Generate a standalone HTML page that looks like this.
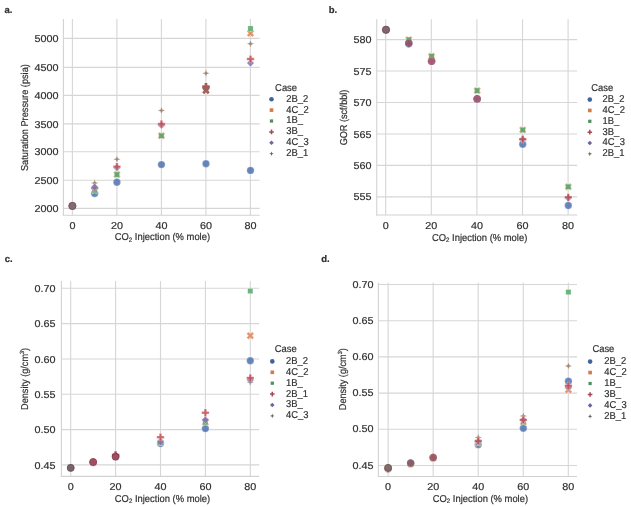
<!DOCTYPE html>
<html><head><meta charset="utf-8"><title>CO2 injection plots</title>
<style>
html,body{margin:0;padding:0;background:#fff;width:631px;height:507px;overflow:hidden}
svg{-webkit-font-smoothing:antialiased;will-change:transform;text-rendering:geometricPrecision}
svg{display:block}
text{font-family:"Liberation Sans", sans-serif;fill:#303030;stroke:#303030;stroke-width:0.2px}
</style></head><body>
<svg width="631" height="507" viewBox="0 0 631 507">
<rect width="631" height="507" fill="#fff"/>
<line x1="63.40" y1="208.40" x2="259.60" y2="208.40" stroke="#d6d6d6" stroke-width="1.1"/>
<line x1="63.40" y1="180.30" x2="259.60" y2="180.30" stroke="#d6d6d6" stroke-width="1.1"/>
<line x1="63.40" y1="151.80" x2="259.60" y2="151.80" stroke="#d6d6d6" stroke-width="1.1"/>
<line x1="63.40" y1="123.90" x2="259.60" y2="123.90" stroke="#d6d6d6" stroke-width="1.1"/>
<line x1="63.40" y1="95.40" x2="259.60" y2="95.40" stroke="#d6d6d6" stroke-width="1.1"/>
<line x1="63.40" y1="67.40" x2="259.60" y2="67.40" stroke="#d6d6d6" stroke-width="1.1"/>
<line x1="63.40" y1="38.40" x2="259.60" y2="38.40" stroke="#d6d6d6" stroke-width="1.1"/>
<line x1="72.40" y1="19.00" x2="72.40" y2="215.20" stroke="#d6d6d6" stroke-width="1.1"/>
<line x1="116.90" y1="19.00" x2="116.90" y2="215.20" stroke="#d6d6d6" stroke-width="1.1"/>
<line x1="161.40" y1="19.00" x2="161.40" y2="215.20" stroke="#d6d6d6" stroke-width="1.1"/>
<line x1="205.90" y1="19.00" x2="205.90" y2="215.20" stroke="#d6d6d6" stroke-width="1.1"/>
<line x1="250.40" y1="19.00" x2="250.40" y2="215.20" stroke="#d6d6d6" stroke-width="1.1"/>
<line x1="63.40" y1="19.00" x2="63.40" y2="215.75" stroke="#d2d2d2" stroke-width="1.1"/>
<line x1="62.85" y1="215.20" x2="259.60" y2="215.20" stroke="#d2d2d2" stroke-width="1.1"/>
<text transform="translate(58.50,212.00) scale(1.08,1)" font-size="10" text-anchor="end">2000</text>
<text transform="translate(58.50,183.90) scale(1.08,1)" font-size="10" text-anchor="end">2500</text>
<text transform="translate(58.50,155.40) scale(1.08,1)" font-size="10" text-anchor="end">3000</text>
<text transform="translate(58.50,127.50) scale(1.08,1)" font-size="10" text-anchor="end">3500</text>
<text transform="translate(58.50,99.00) scale(1.08,1)" font-size="10" text-anchor="end">4000</text>
<text transform="translate(58.50,71.00) scale(1.08,1)" font-size="10" text-anchor="end">4500</text>
<text transform="translate(58.50,42.00) scale(1.08,1)" font-size="10" text-anchor="end">5000</text>
<text transform="translate(72.40,228.60) scale(1.08,1)" font-size="10" text-anchor="middle">0</text>
<text transform="translate(116.90,228.60) scale(1.08,1)" font-size="10" text-anchor="middle">20</text>
<text transform="translate(161.40,228.60) scale(1.08,1)" font-size="10" text-anchor="middle">40</text>
<text transform="translate(205.90,228.60) scale(1.08,1)" font-size="10" text-anchor="middle">60</text>
<text transform="translate(250.40,228.60) scale(1.08,1)" font-size="10" text-anchor="middle">80</text>
<text transform="translate(162.40,240.40) scale(0.94,1)" font-size="10" text-anchor="middle">CO<tspan font-size="6.50" dy="1.2">2</tspan><tspan dy="-1.2"> Injection (% mole)</tspan></text>
<text transform="translate(27.60,117.60) rotate(-90) scale(0.92,1)" font-size="10" text-anchor="middle">Saturation Pressure (psia)</text>
<text x="4.50" y="12.70" font-size="9.5" text-anchor="start" font-weight="bold" >a.</text>
<circle cx="72.40" cy="205.95" r="3.70" fill="#4C72B0" fill-opacity="0.85" stroke="#fff" stroke-width="0.45" stroke-opacity="0.6"/>
<circle cx="94.66" cy="193.50" r="3.70" fill="#4C72B0" fill-opacity="0.85" stroke="#fff" stroke-width="0.45" stroke-opacity="0.6"/>
<circle cx="116.93" cy="182.18" r="3.70" fill="#4C72B0" fill-opacity="0.85" stroke="#fff" stroke-width="0.45" stroke-opacity="0.6"/>
<circle cx="161.45" cy="164.58" r="3.70" fill="#4C72B0" fill-opacity="0.85" stroke="#fff" stroke-width="0.45" stroke-opacity="0.6"/>
<circle cx="205.97" cy="163.73" r="3.70" fill="#4C72B0" fill-opacity="0.85" stroke="#fff" stroke-width="0.45" stroke-opacity="0.6"/>
<circle cx="250.50" cy="170.41" r="3.70" fill="#4C72B0" fill-opacity="0.85" stroke="#fff" stroke-width="0.45" stroke-opacity="0.6"/>
<path d="M70.55 202.25L72.40 204.10L74.25 202.25L76.10 204.10L74.25 205.95L76.10 207.80L74.25 209.65L72.40 207.80L70.55 209.65L68.70 207.80L70.55 205.95L68.70 204.10Z" fill="#DD8452" fill-opacity="0.85" stroke="#fff" stroke-width="0.45" stroke-opacity="0.6"/>
<path d="M92.81 186.69L94.66 188.54L96.51 186.69L98.36 188.54L96.51 190.39L98.36 192.24L96.51 194.09L94.66 192.24L92.81 194.09L90.96 192.24L92.81 190.39L90.96 188.54Z" fill="#DD8452" fill-opacity="0.85" stroke="#fff" stroke-width="0.45" stroke-opacity="0.6"/>
<path d="M115.08 170.84L116.93 172.69L118.78 170.84L120.63 172.69L118.78 174.54L120.63 176.39L118.78 178.24L116.93 176.39L115.08 178.24L113.23 176.39L115.08 174.54L113.23 172.69Z" fill="#DD8452" fill-opacity="0.85" stroke="#fff" stroke-width="0.45" stroke-opacity="0.6"/>
<path d="M159.60 132.01L161.45 133.86L163.30 132.01L165.15 133.86L163.30 135.71L165.15 137.56L163.30 139.41L161.45 137.56L159.60 139.41L157.75 137.56L159.60 135.71L157.75 133.86Z" fill="#DD8452" fill-opacity="0.85" stroke="#fff" stroke-width="0.45" stroke-opacity="0.6"/>
<path d="M204.12 86.51L205.97 88.36L207.82 86.51L209.67 88.36L207.82 90.21L209.67 92.06L207.82 93.91L205.97 92.06L204.12 93.91L202.28 92.06L204.12 90.21L202.28 88.36Z" fill="#DD8452" fill-opacity="0.85" stroke="#fff" stroke-width="0.45" stroke-opacity="0.6"/>
<path d="M248.65 29.62L250.50 31.47L252.35 29.62L254.20 31.47L252.35 33.32L254.20 35.17L252.35 37.02L250.50 35.17L248.65 37.02L246.80 35.17L248.65 33.32L246.80 31.47Z" fill="#DD8452" fill-opacity="0.85" stroke="#fff" stroke-width="0.45" stroke-opacity="0.6"/>
<rect x="69.78" y="203.34" width="5.23" height="5.23" fill="#55A868" fill-opacity="0.85" stroke="#fff" stroke-width="0.45" stroke-opacity="0.6"/>
<rect x="92.05" y="187.77" width="5.23" height="5.23" fill="#55A868" fill-opacity="0.85" stroke="#fff" stroke-width="0.45" stroke-opacity="0.6"/>
<rect x="114.31" y="171.92" width="5.23" height="5.23" fill="#55A868" fill-opacity="0.85" stroke="#fff" stroke-width="0.45" stroke-opacity="0.6"/>
<rect x="158.83" y="133.10" width="5.23" height="5.23" fill="#55A868" fill-opacity="0.85" stroke="#fff" stroke-width="0.45" stroke-opacity="0.6"/>
<rect x="203.36" y="85.33" width="5.23" height="5.23" fill="#55A868" fill-opacity="0.85" stroke="#fff" stroke-width="0.45" stroke-opacity="0.6"/>
<rect x="247.88" y="25.90" width="5.23" height="5.23" fill="#55A868" fill-opacity="0.85" stroke="#fff" stroke-width="0.45" stroke-opacity="0.6"/>
<path d="M72.40 202.25L73.40 204.95L76.10 205.95L73.40 206.95L72.40 209.65L71.40 206.95L68.70 205.95L71.40 204.95Z" fill="#937860" fill-opacity="0.85" stroke="#fff" stroke-width="0.45" stroke-opacity="0.6"/>
<path d="M94.66 179.33L95.66 182.03L98.36 183.03L95.66 184.03L94.66 186.73L93.66 184.03L90.96 183.03L93.66 182.03Z" fill="#937860" fill-opacity="0.85" stroke="#fff" stroke-width="0.45" stroke-opacity="0.6"/>
<path d="M116.93 155.50L117.92 158.20L120.63 159.20L117.92 160.20L116.93 162.90L115.93 160.20L113.23 159.20L115.93 158.20Z" fill="#937860" fill-opacity="0.85" stroke="#fff" stroke-width="0.45" stroke-opacity="0.6"/>
<path d="M161.45 106.83L162.45 109.53L165.15 110.53L162.45 111.52L161.45 114.23L160.45 111.52L157.75 110.53L160.45 109.53Z" fill="#937860" fill-opacity="0.85" stroke="#fff" stroke-width="0.45" stroke-opacity="0.6"/>
<path d="M205.97 69.53L206.97 72.23L209.67 73.23L206.97 74.23L205.97 76.93L204.98 74.23L202.28 73.23L204.98 72.23Z" fill="#937860" fill-opacity="0.85" stroke="#fff" stroke-width="0.45" stroke-opacity="0.6"/>
<path d="M250.50 40.09L251.50 42.79L254.20 43.79L251.50 44.79L250.50 47.49L249.50 44.79L246.80 43.79L249.50 42.79Z" fill="#937860" fill-opacity="0.85" stroke="#fff" stroke-width="0.45" stroke-opacity="0.6"/>
<path d="M72.40 202.25L76.10 205.95L72.40 209.65L68.70 205.95Z" fill="#8172B3" fill-opacity="0.85" stroke="#fff" stroke-width="0.45" stroke-opacity="0.6"/>
<path d="M116.93 164.05L120.63 167.75L116.93 171.45L113.23 167.75Z" fill="#8172B3" fill-opacity="0.85" stroke="#fff" stroke-width="0.45" stroke-opacity="0.6"/>
<path d="M161.45 121.60L165.15 125.30L161.45 129.00L157.75 125.30Z" fill="#8172B3" fill-opacity="0.85" stroke="#fff" stroke-width="0.45" stroke-opacity="0.6"/>
<path d="M205.97 84.81L209.67 88.51L205.97 92.21L202.28 88.51Z" fill="#8172B3" fill-opacity="0.85" stroke="#fff" stroke-width="0.45" stroke-opacity="0.6"/>
<path d="M250.50 59.34L254.20 63.04L250.50 66.74L246.80 63.04Z" fill="#8172B3" fill-opacity="0.85" stroke="#fff" stroke-width="0.45" stroke-opacity="0.6"/>
<path d="M71.17 202.25L71.17 204.72L68.70 204.72L68.70 207.19L71.17 207.19L71.17 209.65L73.63 209.65L73.63 207.19L76.10 207.19L76.10 204.72L73.63 204.72L73.63 202.25Z" fill="#C44E52" fill-opacity="0.85" stroke="#fff" stroke-width="0.45" stroke-opacity="0.6"/>
<path d="M93.43 184.42L93.43 186.89L90.96 186.89L90.96 189.36L93.43 189.36L93.43 191.82L95.90 191.82L95.90 189.36L98.36 189.36L98.36 186.89L95.90 186.89L95.90 184.42Z" fill="#C44E52" fill-opacity="0.85" stroke="#fff" stroke-width="0.45" stroke-opacity="0.6"/>
<path d="M115.69 162.92L115.69 165.38L113.23 165.38L113.23 167.85L115.69 167.85L115.69 170.32L118.16 170.32L118.16 167.85L120.63 167.85L120.63 165.38L118.16 165.38L118.16 162.92Z" fill="#C44E52" fill-opacity="0.85" stroke="#fff" stroke-width="0.45" stroke-opacity="0.6"/>
<path d="M160.22 120.30L160.22 122.76L157.75 122.76L157.75 125.23L160.22 125.23L160.22 127.70L162.68 127.70L162.68 125.23L165.15 125.23L165.15 122.76L162.68 122.76L162.68 120.30Z" fill="#C44E52" fill-opacity="0.85" stroke="#fff" stroke-width="0.45" stroke-opacity="0.6"/>
<path d="M204.74 83.11L204.74 85.58L202.28 85.58L202.28 88.04L204.74 88.04L204.74 90.51L207.21 90.51L207.21 88.04L209.67 88.04L209.67 85.58L207.21 85.58L207.21 83.11Z" fill="#C44E52" fill-opacity="0.85" stroke="#fff" stroke-width="0.45" stroke-opacity="0.6"/>
<path d="M249.27 55.38L249.27 57.84L246.80 57.84L246.80 60.31L249.27 60.31L249.27 62.78L251.73 62.78L251.73 60.31L254.20 60.31L254.20 57.84L251.73 57.84L251.73 55.38Z" fill="#C44E52" fill-opacity="0.85" stroke="#fff" stroke-width="0.45" stroke-opacity="0.6"/>
<path d="M94.66 183.29L98.36 186.99L94.66 190.69L90.96 186.99Z" fill="#8172B3" fill-opacity="0.85" stroke="#fff" stroke-width="0.45" stroke-opacity="0.6"/>
<circle cx="72.40" cy="205.95" r="3.6" fill="#7f6b75" fill-opacity="0.95" stroke="#5e4b55" stroke-width="0.9" stroke-opacity="0.8"/>
<path d="M204.12 86.79L205.97 88.64L207.82 86.79L209.67 88.64L207.82 90.49L209.67 92.34L207.82 94.19L205.97 92.34L204.12 94.19L202.28 92.34L204.12 90.49L202.28 88.64Z" fill="#a0605a" fill-opacity="0.95" stroke="#fff" stroke-width="0" stroke-opacity="0.6"/>
<path d="M204.74 83.11L204.74 85.58L202.28 85.58L202.28 88.04L204.74 88.04L204.74 90.51L207.21 90.51L207.21 88.04L209.67 88.04L209.67 85.58L207.21 85.58L207.21 83.11Z" fill="#a45a5a" fill-opacity="0.95" stroke="#fff" stroke-width="0" stroke-opacity="0.6"/>
<text transform="translate(275.10,90.60) scale(0.94,1)" font-size="10">Case</text>
<circle cx="271.50" cy="99.20" r="2.30" fill="#41639e" fill-opacity="1.0" stroke="#fff" stroke-width="0" stroke-opacity="0.6"/>
<text transform="translate(286.30,101.60) scale(0.94,1)" font-size="10">2B_2</text>
<rect x="269.68" y="108.28" width="3.64" height="3.64" fill="#cf7c52" fill-opacity="1.0" stroke="#fff" stroke-width="0" stroke-opacity="0.6"/>
<text transform="translate(286.30,112.50) scale(0.94,1)" font-size="10">4C_2</text>
<rect x="269.87" y="119.37" width="3.25" height="3.25" fill="#4d9160" fill-opacity="1.0" stroke="#fff" stroke-width="0" stroke-opacity="0.6"/>
<text transform="translate(286.30,123.40) scale(0.94,1)" font-size="10">1B_</text>
<path d="M270.73 129.60L270.73 131.13L269.20 131.13L269.20 132.67L270.73 132.67L270.73 134.20L272.27 134.20L272.27 132.67L273.80 132.67L273.80 131.13L272.27 131.13L272.27 129.60Z" fill="#a8475a" fill-opacity="1.0" stroke="#fff" stroke-width="0" stroke-opacity="0.6"/>
<text transform="translate(286.30,134.30) scale(0.94,1)" font-size="10">3B_</text>
<path d="M271.50 140.50L273.80 142.80L271.50 145.10L269.20 142.80Z" fill="#6d64a0" fill-opacity="1.0" stroke="#fff" stroke-width="0" stroke-opacity="0.6"/>
<text transform="translate(286.30,145.20) scale(0.94,1)" font-size="10">4C_3</text>
<path d="M271.50 151.40L272.12 153.08L273.80 153.70L272.12 154.32L271.50 156.00L270.88 154.32L269.20 153.70L270.88 153.08Z" fill="#716456" fill-opacity="1.0" stroke="#fff" stroke-width="0" stroke-opacity="0.6"/>
<text transform="translate(286.30,156.10) scale(0.94,1)" font-size="10">2B_1</text>
<line x1="376.75" y1="196.85" x2="577.20" y2="196.85" stroke="#d6d6d6" stroke-width="1.1"/>
<line x1="376.75" y1="165.40" x2="577.20" y2="165.40" stroke="#d6d6d6" stroke-width="1.1"/>
<line x1="376.75" y1="133.95" x2="577.20" y2="133.95" stroke="#d6d6d6" stroke-width="1.1"/>
<line x1="376.75" y1="102.50" x2="577.20" y2="102.50" stroke="#d6d6d6" stroke-width="1.1"/>
<line x1="376.75" y1="71.05" x2="577.20" y2="71.05" stroke="#d6d6d6" stroke-width="1.1"/>
<line x1="376.75" y1="39.60" x2="577.20" y2="39.60" stroke="#d6d6d6" stroke-width="1.1"/>
<line x1="385.70" y1="19.20" x2="385.70" y2="215.00" stroke="#d6d6d6" stroke-width="1.1"/>
<line x1="431.30" y1="19.20" x2="431.30" y2="215.00" stroke="#d6d6d6" stroke-width="1.1"/>
<line x1="476.90" y1="19.20" x2="476.90" y2="215.00" stroke="#d6d6d6" stroke-width="1.1"/>
<line x1="522.50" y1="19.20" x2="522.50" y2="215.00" stroke="#d6d6d6" stroke-width="1.1"/>
<line x1="568.10" y1="19.20" x2="568.10" y2="215.00" stroke="#d6d6d6" stroke-width="1.1"/>
<line x1="376.75" y1="19.20" x2="376.75" y2="215.55" stroke="#d2d2d2" stroke-width="1.1"/>
<line x1="376.20" y1="215.00" x2="577.20" y2="215.00" stroke="#d2d2d2" stroke-width="1.1"/>
<text transform="translate(371.50,200.45) scale(1.08,1)" font-size="10" text-anchor="end">555</text>
<text transform="translate(371.50,169.00) scale(1.08,1)" font-size="10" text-anchor="end">560</text>
<text transform="translate(371.50,137.55) scale(1.08,1)" font-size="10" text-anchor="end">565</text>
<text transform="translate(371.50,106.10) scale(1.08,1)" font-size="10" text-anchor="end">570</text>
<text transform="translate(371.50,74.65) scale(1.08,1)" font-size="10" text-anchor="end">575</text>
<text transform="translate(371.50,43.20) scale(1.08,1)" font-size="10" text-anchor="end">580</text>
<text transform="translate(385.70,228.80) scale(1.08,1)" font-size="10" text-anchor="middle">0</text>
<text transform="translate(431.30,228.80) scale(1.08,1)" font-size="10" text-anchor="middle">20</text>
<text transform="translate(476.90,228.80) scale(1.08,1)" font-size="10" text-anchor="middle">40</text>
<text transform="translate(522.50,228.80) scale(1.08,1)" font-size="10" text-anchor="middle">60</text>
<text transform="translate(568.10,228.80) scale(1.08,1)" font-size="10" text-anchor="middle">80</text>
<text transform="translate(479.60,240.50) scale(0.94,1)" font-size="10" text-anchor="middle">CO<tspan font-size="6.50" dy="1.2">2</tspan><tspan dy="-1.2"> Injection (% mole)</tspan></text>
<text transform="translate(347.40,117.50) rotate(-90) scale(0.91,1)" font-size="10" text-anchor="middle">GOR (scf/bbl)</text>
<text x="328.80" y="13.30" font-size="9.5" text-anchor="start" font-weight="bold" >b.</text>
<circle cx="386.00" cy="30.01" r="3.70" fill="#4C72B0" fill-opacity="0.85" stroke="#fff" stroke-width="0.45" stroke-opacity="0.6"/>
<circle cx="408.79" cy="43.75" r="3.70" fill="#4C72B0" fill-opacity="0.85" stroke="#fff" stroke-width="0.45" stroke-opacity="0.6"/>
<circle cx="431.57" cy="61.23" r="3.70" fill="#4C72B0" fill-opacity="0.85" stroke="#fff" stroke-width="0.45" stroke-opacity="0.6"/>
<circle cx="477.15" cy="99.32" r="3.70" fill="#4C72B0" fill-opacity="0.85" stroke="#fff" stroke-width="0.45" stroke-opacity="0.6"/>
<circle cx="522.72" cy="144.27" r="3.70" fill="#4C72B0" fill-opacity="0.85" stroke="#fff" stroke-width="0.45" stroke-opacity="0.6"/>
<circle cx="568.30" cy="205.47" r="3.70" fill="#4C72B0" fill-opacity="0.85" stroke="#fff" stroke-width="0.45" stroke-opacity="0.6"/>
<path d="M384.15 26.31L386.00 28.16L387.85 26.31L389.70 28.16L387.85 30.01L389.70 31.86L387.85 33.71L386.00 31.86L384.15 33.71L382.30 31.86L384.15 30.01L382.30 28.16Z" fill="#DD8452" fill-opacity="0.85" stroke="#fff" stroke-width="0.45" stroke-opacity="0.6"/>
<path d="M406.94 35.99L408.79 37.84L410.64 35.99L412.49 37.84L410.64 39.69L412.49 41.54L410.64 43.39L408.79 41.54L406.94 43.39L405.09 41.54L406.94 39.69L405.09 37.84Z" fill="#DD8452" fill-opacity="0.85" stroke="#fff" stroke-width="0.45" stroke-opacity="0.6"/>
<path d="M429.72 52.53L431.57 54.38L433.43 52.53L435.27 54.38L433.43 56.23L435.27 58.08L433.43 59.93L431.57 58.08L429.72 59.93L427.88 58.08L429.72 56.23L427.88 54.38Z" fill="#DD8452" fill-opacity="0.85" stroke="#fff" stroke-width="0.45" stroke-opacity="0.6"/>
<path d="M475.30 86.88L477.15 88.73L479.00 86.88L480.85 88.73L479.00 90.58L480.85 92.43L479.00 94.28L477.15 92.43L475.30 94.28L473.45 92.43L475.30 90.58L473.45 88.73Z" fill="#DD8452" fill-opacity="0.85" stroke="#fff" stroke-width="0.45" stroke-opacity="0.6"/>
<path d="M520.87 126.21L522.72 128.06L524.57 126.21L526.42 128.06L524.57 129.91L526.42 131.76L524.57 133.61L522.72 131.76L520.87 133.61L519.02 131.76L520.87 129.91L519.02 128.06Z" fill="#DD8452" fill-opacity="0.85" stroke="#fff" stroke-width="0.45" stroke-opacity="0.6"/>
<path d="M566.45 183.03L568.30 184.88L570.15 183.03L572.00 184.88L570.15 186.73L572.00 188.58L570.15 190.43L568.30 188.58L566.45 190.43L564.60 188.58L566.45 186.73L564.60 184.88Z" fill="#DD8452" fill-opacity="0.85" stroke="#fff" stroke-width="0.45" stroke-opacity="0.6"/>
<rect x="383.38" y="27.39" width="5.23" height="5.23" fill="#55A868" fill-opacity="0.85" stroke="#fff" stroke-width="0.45" stroke-opacity="0.6"/>
<rect x="406.17" y="37.07" width="5.23" height="5.23" fill="#55A868" fill-opacity="0.85" stroke="#fff" stroke-width="0.45" stroke-opacity="0.6"/>
<rect x="428.96" y="53.62" width="5.23" height="5.23" fill="#55A868" fill-opacity="0.85" stroke="#fff" stroke-width="0.45" stroke-opacity="0.6"/>
<rect x="474.53" y="87.96" width="5.23" height="5.23" fill="#55A868" fill-opacity="0.85" stroke="#fff" stroke-width="0.45" stroke-opacity="0.6"/>
<rect x="520.11" y="127.30" width="5.23" height="5.23" fill="#55A868" fill-opacity="0.85" stroke="#fff" stroke-width="0.45" stroke-opacity="0.6"/>
<rect x="565.68" y="184.12" width="5.23" height="5.23" fill="#55A868" fill-opacity="0.85" stroke="#fff" stroke-width="0.45" stroke-opacity="0.6"/>
<path d="M386.00 26.31L387.00 29.01L389.70 30.01L387.00 31.01L386.00 33.71L385.00 31.01L382.30 30.01L385.00 29.01Z" fill="#937860" fill-opacity="0.85" stroke="#fff" stroke-width="0.45" stroke-opacity="0.6"/>
<path d="M408.79 40.05L409.79 42.75L412.49 43.75L409.79 44.75L408.79 47.45L407.79 44.75L405.09 43.75L407.79 42.75Z" fill="#937860" fill-opacity="0.85" stroke="#fff" stroke-width="0.45" stroke-opacity="0.6"/>
<path d="M431.57 57.53L432.57 60.23L435.27 61.23L432.57 62.23L431.57 64.93L430.58 62.23L427.88 61.23L430.58 60.23Z" fill="#937860" fill-opacity="0.85" stroke="#fff" stroke-width="0.45" stroke-opacity="0.6"/>
<path d="M477.15 94.99L478.15 97.69L480.85 98.69L478.15 99.69L477.15 102.39L476.15 99.69L473.45 98.69L476.15 97.69Z" fill="#937860" fill-opacity="0.85" stroke="#fff" stroke-width="0.45" stroke-opacity="0.6"/>
<path d="M522.72 135.58L523.72 138.28L526.42 139.28L523.72 140.28L522.72 142.98L521.73 140.28L519.02 139.28L521.73 138.28Z" fill="#937860" fill-opacity="0.85" stroke="#fff" stroke-width="0.45" stroke-opacity="0.6"/>
<path d="M568.30 193.65L569.30 196.35L572.00 197.35L569.30 198.35L568.30 201.05L567.30 198.35L564.60 197.35L567.30 196.35Z" fill="#937860" fill-opacity="0.85" stroke="#fff" stroke-width="0.45" stroke-opacity="0.6"/>
<path d="M386.00 26.31L389.70 30.01L386.00 33.71L382.30 30.01Z" fill="#8172B3" fill-opacity="0.85" stroke="#fff" stroke-width="0.45" stroke-opacity="0.6"/>
<path d="M408.79 40.05L412.49 43.75L408.79 47.45L405.09 43.75Z" fill="#8172B3" fill-opacity="0.85" stroke="#fff" stroke-width="0.45" stroke-opacity="0.6"/>
<path d="M431.57 57.53L435.27 61.23L431.57 64.93L427.88 61.23Z" fill="#8172B3" fill-opacity="0.85" stroke="#fff" stroke-width="0.45" stroke-opacity="0.6"/>
<path d="M477.15 94.99L480.85 98.69L477.15 102.39L473.45 98.69Z" fill="#8172B3" fill-opacity="0.85" stroke="#fff" stroke-width="0.45" stroke-opacity="0.6"/>
<path d="M522.72 135.58L526.42 139.28L522.72 142.98L519.02 139.28Z" fill="#8172B3" fill-opacity="0.85" stroke="#fff" stroke-width="0.45" stroke-opacity="0.6"/>
<path d="M568.30 194.27L572.00 197.97L568.30 201.67L564.60 197.97Z" fill="#8172B3" fill-opacity="0.85" stroke="#fff" stroke-width="0.45" stroke-opacity="0.6"/>
<path d="M384.77 26.31L384.77 28.78L382.30 28.78L382.30 31.24L384.77 31.24L384.77 33.71L387.23 33.71L387.23 31.24L389.70 31.24L389.70 28.78L387.23 28.78L387.23 26.31Z" fill="#C44E52" fill-opacity="0.85" stroke="#fff" stroke-width="0.45" stroke-opacity="0.6"/>
<path d="M407.55 40.05L407.55 42.51L405.09 42.51L405.09 44.98L407.55 44.98L407.55 47.45L410.02 47.45L410.02 44.98L412.49 44.98L412.49 42.51L410.02 42.51L410.02 40.05Z" fill="#C44E52" fill-opacity="0.85" stroke="#fff" stroke-width="0.45" stroke-opacity="0.6"/>
<path d="M430.34 57.53L430.34 60.00L427.88 60.00L427.88 62.46L430.34 62.46L430.34 64.93L432.81 64.93L432.81 62.46L435.27 62.46L435.27 60.00L432.81 60.00L432.81 57.53Z" fill="#C44E52" fill-opacity="0.85" stroke="#fff" stroke-width="0.45" stroke-opacity="0.6"/>
<path d="M475.92 94.99L475.92 97.46L473.45 97.46L473.45 99.93L475.92 99.93L475.92 102.39L478.38 102.39L478.38 99.93L480.85 99.93L480.85 97.46L478.38 97.46L478.38 94.99Z" fill="#C44E52" fill-opacity="0.85" stroke="#fff" stroke-width="0.45" stroke-opacity="0.6"/>
<path d="M521.49 135.58L521.49 138.05L519.02 138.05L519.02 140.51L521.49 140.51L521.49 142.98L523.96 142.98L523.96 140.51L526.42 140.51L526.42 138.05L523.96 138.05L523.96 135.58Z" fill="#C44E52" fill-opacity="0.85" stroke="#fff" stroke-width="0.45" stroke-opacity="0.6"/>
<path d="M567.07 193.65L567.07 196.12L564.60 196.12L564.60 198.58L567.07 198.58L567.07 201.05L569.53 201.05L569.53 198.58L572.00 198.58L572.00 196.12L569.53 196.12L569.53 193.65Z" fill="#C44E52" fill-opacity="0.85" stroke="#fff" stroke-width="0.45" stroke-opacity="0.6"/>
<circle cx="386.00" cy="29.70" r="3.6" fill="#80646f" fill-opacity="0.95" stroke="#62485a" stroke-width="0.9" stroke-opacity="0.8"/>
<circle cx="408.79" cy="43.12" r="3.7" fill="#8a566c" fill-opacity="0.85"/>
<circle cx="431.57" cy="61.23" r="3.7" fill="#a45a76" fill-opacity="0.85"/>
<circle cx="477.15" cy="98.69" r="3.8" fill="#9e5874" fill-opacity="0.85"/>
<text transform="translate(591.20,90.60) scale(0.94,1)" font-size="10">Case</text>
<circle cx="589.80" cy="99.60" r="2.30" fill="#41639e" fill-opacity="1.0" stroke="#fff" stroke-width="0" stroke-opacity="0.6"/>
<text transform="translate(602.60,102.00) scale(0.94,1)" font-size="10">2B_2</text>
<rect x="587.98" y="108.63" width="3.64" height="3.64" fill="#cf7c52" fill-opacity="1.0" stroke="#fff" stroke-width="0" stroke-opacity="0.6"/>
<text transform="translate(602.60,112.85) scale(0.94,1)" font-size="10">4C_2</text>
<rect x="588.17" y="119.67" width="3.25" height="3.25" fill="#4d9160" fill-opacity="1.0" stroke="#fff" stroke-width="0" stroke-opacity="0.6"/>
<text transform="translate(602.60,123.70) scale(0.94,1)" font-size="10">1B_</text>
<path d="M589.03 129.85L589.03 131.38L587.50 131.38L587.50 132.92L589.03 132.92L589.03 134.45L590.57 134.45L590.57 132.92L592.10 132.92L592.10 131.38L590.57 131.38L590.57 129.85Z" fill="#a8475a" fill-opacity="1.0" stroke="#fff" stroke-width="0" stroke-opacity="0.6"/>
<text transform="translate(602.60,134.55) scale(0.94,1)" font-size="10">3B_</text>
<path d="M589.80 140.70L592.10 143.00L589.80 145.30L587.50 143.00Z" fill="#6d64a0" fill-opacity="1.0" stroke="#fff" stroke-width="0" stroke-opacity="0.6"/>
<text transform="translate(602.60,145.40) scale(0.94,1)" font-size="10">4C_3</text>
<path d="M589.80 151.55L590.42 153.23L592.10 153.85L590.42 154.47L589.80 156.15L589.18 154.47L587.50 153.85L589.18 153.23Z" fill="#716456" fill-opacity="1.0" stroke="#fff" stroke-width="0" stroke-opacity="0.6"/>
<text transform="translate(602.60,156.25) scale(0.94,1)" font-size="10">2B_1</text>
<line x1="61.40" y1="464.90" x2="259.20" y2="464.90" stroke="#d6d6d6" stroke-width="1.1"/>
<line x1="61.40" y1="429.58" x2="259.20" y2="429.58" stroke="#d6d6d6" stroke-width="1.1"/>
<line x1="61.40" y1="394.26" x2="259.20" y2="394.26" stroke="#d6d6d6" stroke-width="1.1"/>
<line x1="61.40" y1="358.94" x2="259.20" y2="358.94" stroke="#d6d6d6" stroke-width="1.1"/>
<line x1="61.40" y1="323.62" x2="259.20" y2="323.62" stroke="#d6d6d6" stroke-width="1.1"/>
<line x1="61.40" y1="288.30" x2="259.20" y2="288.30" stroke="#d6d6d6" stroke-width="1.1"/>
<line x1="70.70" y1="281.00" x2="70.70" y2="476.40" stroke="#d6d6d6" stroke-width="1.1"/>
<line x1="115.60" y1="281.00" x2="115.60" y2="476.40" stroke="#d6d6d6" stroke-width="1.1"/>
<line x1="160.50" y1="281.00" x2="160.50" y2="476.40" stroke="#d6d6d6" stroke-width="1.1"/>
<line x1="205.40" y1="281.00" x2="205.40" y2="476.40" stroke="#d6d6d6" stroke-width="1.1"/>
<line x1="250.30" y1="281.00" x2="250.30" y2="476.40" stroke="#d6d6d6" stroke-width="1.1"/>
<line x1="61.40" y1="281.00" x2="61.40" y2="476.95" stroke="#d2d2d2" stroke-width="1.1"/>
<line x1="60.85" y1="476.40" x2="259.20" y2="476.40" stroke="#d2d2d2" stroke-width="1.1"/>
<text transform="translate(55.60,468.50) scale(1.08,1)" font-size="10" text-anchor="end">0.45</text>
<text transform="translate(55.60,433.18) scale(1.08,1)" font-size="10" text-anchor="end">0.50</text>
<text transform="translate(55.60,397.86) scale(1.08,1)" font-size="10" text-anchor="end">0.55</text>
<text transform="translate(55.60,362.54) scale(1.08,1)" font-size="10" text-anchor="end">0.60</text>
<text transform="translate(55.60,327.22) scale(1.08,1)" font-size="10" text-anchor="end">0.65</text>
<text transform="translate(55.60,291.90) scale(1.08,1)" font-size="10" text-anchor="end">0.70</text>
<text transform="translate(70.70,490.00) scale(1.08,1)" font-size="10" text-anchor="middle">0</text>
<text transform="translate(115.60,490.00) scale(1.08,1)" font-size="10" text-anchor="middle">20</text>
<text transform="translate(160.50,490.00) scale(1.08,1)" font-size="10" text-anchor="middle">40</text>
<text transform="translate(205.40,490.00) scale(1.08,1)" font-size="10" text-anchor="middle">60</text>
<text transform="translate(250.30,490.00) scale(1.08,1)" font-size="10" text-anchor="middle">80</text>
<text transform="translate(162.50,502.10) scale(0.94,1)" font-size="10" text-anchor="middle">CO<tspan font-size="6.50" dy="1.2">2</tspan><tspan dy="-1.2"> Injection (% mole)</tspan></text>
<text transform="translate(27.80,378.90) rotate(-90) scale(0.915,1)" font-size="10" text-anchor="middle">Density (g/cm<tspan font-size="6" dy="-3.5">3</tspan><tspan dy="3.5">)</tspan></text>
<text x="4.80" y="261.70" font-size="9.5" text-anchor="start" font-weight="bold" >c.</text>
<circle cx="70.70" cy="468.12" r="3.70" fill="#4C72B0" fill-opacity="0.85" stroke="#fff" stroke-width="0.45" stroke-opacity="0.6"/>
<circle cx="93.15" cy="462.49" r="3.70" fill="#4C72B0" fill-opacity="0.85" stroke="#fff" stroke-width="0.45" stroke-opacity="0.6"/>
<circle cx="115.60" cy="456.71" r="3.70" fill="#4C72B0" fill-opacity="0.85" stroke="#fff" stroke-width="0.45" stroke-opacity="0.6"/>
<circle cx="160.50" cy="443.47" r="3.70" fill="#4C72B0" fill-opacity="0.85" stroke="#fff" stroke-width="0.45" stroke-opacity="0.6"/>
<circle cx="205.40" cy="428.61" r="3.70" fill="#4C72B0" fill-opacity="0.85" stroke="#fff" stroke-width="0.45" stroke-opacity="0.6"/>
<circle cx="250.30" cy="360.70" r="3.70" fill="#4C72B0" fill-opacity="0.85" stroke="#fff" stroke-width="0.45" stroke-opacity="0.6"/>
<path d="M68.85 464.42L70.70 466.27L72.55 464.42L74.40 466.27L72.55 468.12L74.40 469.97L72.55 471.82L70.70 469.97L68.85 471.82L67.00 469.97L68.85 468.12L67.00 466.27Z" fill="#DD8452" fill-opacity="0.85" stroke="#fff" stroke-width="0.45" stroke-opacity="0.6"/>
<path d="M91.30 458.79L93.15 460.64L95.00 458.79L96.85 460.64L95.00 462.49L96.85 464.34L95.00 466.19L93.15 464.34L91.30 466.19L89.45 464.34L91.30 462.49L89.45 460.64Z" fill="#DD8452" fill-opacity="0.85" stroke="#fff" stroke-width="0.45" stroke-opacity="0.6"/>
<path d="M113.75 453.01L115.60 454.86L117.45 453.01L119.30 454.86L117.45 456.71L119.30 458.56L117.45 460.41L115.60 458.56L113.75 460.41L111.90 458.56L113.75 456.71L111.90 454.86Z" fill="#DD8452" fill-opacity="0.85" stroke="#fff" stroke-width="0.45" stroke-opacity="0.6"/>
<path d="M158.65 439.06L160.50 440.91L162.35 439.06L164.20 440.91L162.35 442.76L164.20 444.61L162.35 446.46L160.50 444.61L158.65 446.46L156.80 444.61L158.65 442.76L156.80 440.91Z" fill="#DD8452" fill-opacity="0.85" stroke="#fff" stroke-width="0.45" stroke-opacity="0.6"/>
<path d="M203.55 418.64L205.40 420.49L207.25 418.64L209.10 420.49L207.25 422.34L209.10 424.19L207.25 426.04L205.40 424.19L203.55 426.04L201.70 424.19L203.55 422.34L201.70 420.49Z" fill="#DD8452" fill-opacity="0.85" stroke="#fff" stroke-width="0.45" stroke-opacity="0.6"/>
<path d="M248.45 331.99L250.30 333.84L252.15 331.99L254.00 333.84L252.15 335.69L254.00 337.54L252.15 339.39L250.30 337.54L248.45 339.39L246.60 337.54L248.45 335.69L246.60 333.84Z" fill="#DD8452" fill-opacity="0.85" stroke="#fff" stroke-width="0.45" stroke-opacity="0.6"/>
<rect x="68.08" y="465.51" width="5.23" height="5.23" fill="#55A868" fill-opacity="0.85" stroke="#fff" stroke-width="0.45" stroke-opacity="0.6"/>
<rect x="90.53" y="459.87" width="5.23" height="5.23" fill="#55A868" fill-opacity="0.85" stroke="#fff" stroke-width="0.45" stroke-opacity="0.6"/>
<rect x="112.98" y="454.09" width="5.23" height="5.23" fill="#55A868" fill-opacity="0.85" stroke="#fff" stroke-width="0.45" stroke-opacity="0.6"/>
<rect x="157.88" y="440.15" width="5.23" height="5.23" fill="#55A868" fill-opacity="0.85" stroke="#fff" stroke-width="0.45" stroke-opacity="0.6"/>
<rect x="202.78" y="419.72" width="5.23" height="5.23" fill="#55A868" fill-opacity="0.85" stroke="#fff" stroke-width="0.45" stroke-opacity="0.6"/>
<rect x="247.68" y="288.42" width="5.23" height="5.23" fill="#55A868" fill-opacity="0.85" stroke="#fff" stroke-width="0.45" stroke-opacity="0.6"/>
<path d="M70.70 464.42L71.70 467.12L74.40 468.12L71.70 469.12L70.70 471.82L69.70 469.12L67.00 468.12L69.70 467.12Z" fill="#937860" fill-opacity="0.85" stroke="#fff" stroke-width="0.45" stroke-opacity="0.6"/>
<path d="M93.15 458.43L94.15 461.14L96.85 462.13L94.15 463.13L93.15 465.83L92.15 463.13L89.45 462.13L92.15 461.14Z" fill="#937860" fill-opacity="0.85" stroke="#fff" stroke-width="0.45" stroke-opacity="0.6"/>
<path d="M115.60 452.80L116.60 455.50L119.30 456.50L116.60 457.50L115.60 460.20L114.60 457.50L111.90 456.50L114.60 455.50Z" fill="#937860" fill-opacity="0.85" stroke="#fff" stroke-width="0.45" stroke-opacity="0.6"/>
<path d="M160.50 438.36L161.50 441.06L164.20 442.06L161.50 443.06L160.50 445.76L159.50 443.06L156.80 442.06L159.50 441.06Z" fill="#937860" fill-opacity="0.85" stroke="#fff" stroke-width="0.45" stroke-opacity="0.6"/>
<path d="M205.40 416.17L206.40 418.87L209.10 419.87L206.40 420.87L205.40 423.57L204.40 420.87L201.70 419.87L204.40 418.87Z" fill="#937860" fill-opacity="0.85" stroke="#fff" stroke-width="0.45" stroke-opacity="0.6"/>
<path d="M250.30 378.49L251.30 381.19L254.00 382.19L251.30 383.18L250.30 385.89L249.30 383.18L246.60 382.19L249.30 381.19Z" fill="#937860" fill-opacity="0.85" stroke="#fff" stroke-width="0.45" stroke-opacity="0.6"/>
<path d="M70.70 464.42L74.40 468.12L70.70 471.82L67.00 468.12Z" fill="#8172B3" fill-opacity="0.85" stroke="#fff" stroke-width="0.45" stroke-opacity="0.6"/>
<path d="M93.15 458.43L96.85 462.13L93.15 465.83L89.45 462.13Z" fill="#8172B3" fill-opacity="0.85" stroke="#fff" stroke-width="0.45" stroke-opacity="0.6"/>
<path d="M115.60 452.80L119.30 456.50L115.60 460.20L111.90 456.50Z" fill="#8172B3" fill-opacity="0.85" stroke="#fff" stroke-width="0.45" stroke-opacity="0.6"/>
<path d="M160.50 438.36L164.20 442.06L160.50 445.76L156.80 442.06Z" fill="#8172B3" fill-opacity="0.85" stroke="#fff" stroke-width="0.45" stroke-opacity="0.6"/>
<path d="M205.40 416.17L209.10 419.87L205.40 423.57L201.70 419.87Z" fill="#8172B3" fill-opacity="0.85" stroke="#fff" stroke-width="0.45" stroke-opacity="0.6"/>
<path d="M250.30 376.37L254.00 380.07L250.30 383.77L246.60 380.07Z" fill="#8172B3" fill-opacity="0.85" stroke="#fff" stroke-width="0.45" stroke-opacity="0.6"/>
<path d="M69.47 464.42L69.47 466.89L67.00 466.89L67.00 469.36L69.47 469.36L69.47 471.82L71.93 471.82L71.93 469.36L74.40 469.36L74.40 466.89L71.93 466.89L71.93 464.42Z" fill="#C44E52" fill-opacity="0.85" stroke="#fff" stroke-width="0.45" stroke-opacity="0.6"/>
<path d="M91.92 458.43L91.92 460.90L89.45 460.90L89.45 463.37L91.92 463.37L91.92 465.83L94.38 465.83L94.38 463.37L96.85 463.37L96.85 460.90L94.38 460.90L94.38 458.43Z" fill="#C44E52" fill-opacity="0.85" stroke="#fff" stroke-width="0.45" stroke-opacity="0.6"/>
<path d="M114.37 452.45L114.37 454.91L111.90 454.91L111.90 457.38L114.37 457.38L114.37 459.85L116.83 459.85L116.83 457.38L119.30 457.38L119.30 454.91L116.83 454.91L116.83 452.45Z" fill="#C44E52" fill-opacity="0.85" stroke="#fff" stroke-width="0.45" stroke-opacity="0.6"/>
<path d="M159.27 433.50L159.27 435.97L156.80 435.97L156.80 438.43L159.27 438.43L159.27 440.90L161.73 440.90L161.73 438.43L164.20 438.43L164.20 435.97L161.73 435.97L161.73 433.50Z" fill="#C44E52" fill-opacity="0.85" stroke="#fff" stroke-width="0.45" stroke-opacity="0.6"/>
<path d="M204.17 408.99L204.17 411.45L201.70 411.45L201.70 413.92L204.17 413.92L204.17 416.39L206.63 416.39L206.63 413.92L209.10 413.92L209.10 411.45L206.63 411.45L206.63 408.99Z" fill="#C44E52" fill-opacity="0.85" stroke="#fff" stroke-width="0.45" stroke-opacity="0.6"/>
<path d="M249.07 374.26L249.07 376.73L246.60 376.73L246.60 379.19L249.07 379.19L249.07 381.66L251.53 381.66L251.53 379.19L254.00 379.19L254.00 376.73L251.53 376.73L251.53 374.26Z" fill="#C44E52" fill-opacity="0.85" stroke="#fff" stroke-width="0.45" stroke-opacity="0.6"/>
<circle cx="70.70" cy="467.77" r="3.4" fill="#76636c" fill-opacity="0.95" stroke="#5a4852" stroke-width="0.9" stroke-opacity="0.8"/>
<circle cx="93.15" cy="461.99" r="3.5" fill="#a34a5f" fill-opacity="0.9" stroke="#7a3a4a" stroke-width="0.9" stroke-opacity="0.8"/>
<path d="M114.37 451.18L114.37 453.65L111.90 453.65L111.90 456.11L114.37 456.11L114.37 458.58L116.83 458.58L116.83 456.11L119.30 456.11L119.30 453.65L116.83 453.65L116.83 451.18Z" fill="#a84c60" fill-opacity="0.9" stroke="#fff" stroke-width="0" stroke-opacity="0.6"/>
<circle cx="115.60" cy="456.71" r="3.4" fill="#9c4c60" fill-opacity="0.9" stroke="#763c4c" stroke-width="0.9" stroke-opacity="0.8"/>
<text transform="translate(274.80,352.00) scale(0.94,1)" font-size="10">Case</text>
<circle cx="272.30" cy="361.40" r="2.30" fill="#41639e" fill-opacity="1.0" stroke="#fff" stroke-width="0" stroke-opacity="0.6"/>
<text transform="translate(286.00,363.80) scale(0.94,1)" font-size="10">2B_2</text>
<rect x="270.48" y="370.48" width="3.64" height="3.64" fill="#cf7c52" fill-opacity="1.0" stroke="#fff" stroke-width="0" stroke-opacity="0.6"/>
<text transform="translate(286.00,374.70) scale(0.94,1)" font-size="10">4C_2</text>
<rect x="270.67" y="381.57" width="3.25" height="3.25" fill="#4d9160" fill-opacity="1.0" stroke="#fff" stroke-width="0" stroke-opacity="0.6"/>
<text transform="translate(286.00,385.60) scale(0.94,1)" font-size="10">1B_</text>
<path d="M271.53 391.80L271.53 393.33L270.00 393.33L270.00 394.87L271.53 394.87L271.53 396.40L273.07 396.40L273.07 394.87L274.60 394.87L274.60 393.33L273.07 393.33L273.07 391.80Z" fill="#a8475a" fill-opacity="1.0" stroke="#fff" stroke-width="0" stroke-opacity="0.6"/>
<text transform="translate(286.00,396.50) scale(0.94,1)" font-size="10">2B_1</text>
<path d="M272.30 402.70L274.60 405.00L272.30 407.30L270.00 405.00Z" fill="#6d64a0" fill-opacity="1.0" stroke="#fff" stroke-width="0" stroke-opacity="0.6"/>
<text transform="translate(286.00,407.40) scale(0.94,1)" font-size="10">3B_</text>
<path d="M272.30 413.60L272.92 415.28L274.60 415.90L272.92 416.52L272.30 418.20L271.68 416.52L270.00 415.90L271.68 415.28Z" fill="#716456" fill-opacity="1.0" stroke="#fff" stroke-width="0" stroke-opacity="0.6"/>
<text transform="translate(286.00,418.30) scale(0.94,1)" font-size="10">4C_3</text>
<line x1="378.40" y1="465.50" x2="577.00" y2="465.50" stroke="#d6d6d6" stroke-width="1.1"/>
<line x1="378.40" y1="429.30" x2="577.00" y2="429.30" stroke="#d6d6d6" stroke-width="1.1"/>
<line x1="378.40" y1="393.10" x2="577.00" y2="393.10" stroke="#d6d6d6" stroke-width="1.1"/>
<line x1="378.40" y1="356.90" x2="577.00" y2="356.90" stroke="#d6d6d6" stroke-width="1.1"/>
<line x1="378.40" y1="320.70" x2="577.00" y2="320.70" stroke="#d6d6d6" stroke-width="1.1"/>
<line x1="378.40" y1="284.50" x2="577.00" y2="284.50" stroke="#d6d6d6" stroke-width="1.1"/>
<line x1="388.10" y1="282.50" x2="388.10" y2="476.50" stroke="#d6d6d6" stroke-width="1.1"/>
<line x1="433.15" y1="282.50" x2="433.15" y2="476.50" stroke="#d6d6d6" stroke-width="1.1"/>
<line x1="478.20" y1="282.50" x2="478.20" y2="476.50" stroke="#d6d6d6" stroke-width="1.1"/>
<line x1="523.25" y1="282.50" x2="523.25" y2="476.50" stroke="#d6d6d6" stroke-width="1.1"/>
<line x1="568.30" y1="282.50" x2="568.30" y2="476.50" stroke="#d6d6d6" stroke-width="1.1"/>
<line x1="378.40" y1="282.50" x2="378.40" y2="477.05" stroke="#d2d2d2" stroke-width="1.1"/>
<line x1="377.85" y1="476.50" x2="577.00" y2="476.50" stroke="#d2d2d2" stroke-width="1.1"/>
<text transform="translate(373.50,468.50) scale(1.08,1)" font-size="10" text-anchor="end">0.45</text>
<text transform="translate(373.50,432.30) scale(1.08,1)" font-size="10" text-anchor="end">0.50</text>
<text transform="translate(373.50,396.10) scale(1.08,1)" font-size="10" text-anchor="end">0.55</text>
<text transform="translate(373.50,359.90) scale(1.08,1)" font-size="10" text-anchor="end">0.60</text>
<text transform="translate(373.50,323.70) scale(1.08,1)" font-size="10" text-anchor="end">0.65</text>
<text transform="translate(373.50,287.50) scale(1.08,1)" font-size="10" text-anchor="end">0.70</text>
<text transform="translate(388.10,490.00) scale(1.08,1)" font-size="10" text-anchor="middle">0</text>
<text transform="translate(433.15,490.00) scale(1.08,1)" font-size="10" text-anchor="middle">20</text>
<text transform="translate(478.20,490.00) scale(1.08,1)" font-size="10" text-anchor="middle">40</text>
<text transform="translate(523.25,490.00) scale(1.08,1)" font-size="10" text-anchor="middle">60</text>
<text transform="translate(568.30,490.00) scale(1.08,1)" font-size="10" text-anchor="middle">80</text>
<text transform="translate(480.40,502.10) scale(0.94,1)" font-size="10" text-anchor="middle">CO<tspan font-size="6.50" dy="1.2">2</tspan><tspan dy="-1.2"> Injection (% mole)</tspan></text>
<text transform="translate(345.90,379.20) rotate(-90) scale(0.915,1)" font-size="10" text-anchor="middle">Density (g/cm<tspan font-size="6" dy="-3.5">3</tspan><tspan dy="3.5">)</tspan></text>
<text x="321.20" y="262.00" font-size="9.5" text-anchor="start" font-weight="bold" >d.</text>
<circle cx="388.10" cy="468.76" r="3.70" fill="#4C72B0" fill-opacity="0.85" stroke="#fff" stroke-width="0.45" stroke-opacity="0.6"/>
<circle cx="410.64" cy="463.69" r="3.70" fill="#4C72B0" fill-opacity="0.85" stroke="#fff" stroke-width="0.45" stroke-opacity="0.6"/>
<circle cx="433.18" cy="457.90" r="3.70" fill="#4C72B0" fill-opacity="0.85" stroke="#fff" stroke-width="0.45" stroke-opacity="0.6"/>
<circle cx="478.25" cy="444.65" r="3.70" fill="#4C72B0" fill-opacity="0.85" stroke="#fff" stroke-width="0.45" stroke-opacity="0.6"/>
<circle cx="523.33" cy="428.21" r="3.70" fill="#4C72B0" fill-opacity="0.85" stroke="#fff" stroke-width="0.45" stroke-opacity="0.6"/>
<circle cx="568.40" cy="381.23" r="3.70" fill="#4C72B0" fill-opacity="0.85" stroke="#fff" stroke-width="0.45" stroke-opacity="0.6"/>
<path d="M386.25 465.06L388.10 466.91L389.95 465.06L391.80 466.91L389.95 468.76L391.80 470.61L389.95 472.46L388.10 470.61L386.25 472.46L384.40 470.61L386.25 468.76L384.40 466.91Z" fill="#DD8452" fill-opacity="0.85" stroke="#fff" stroke-width="0.45" stroke-opacity="0.6"/>
<path d="M408.79 459.99L410.64 461.84L412.49 459.99L414.34 461.84L412.49 463.69L414.34 465.54L412.49 467.39L410.64 465.54L408.79 467.39L406.94 465.54L408.79 463.69L406.94 461.84Z" fill="#DD8452" fill-opacity="0.85" stroke="#fff" stroke-width="0.45" stroke-opacity="0.6"/>
<path d="M431.32 454.20L433.18 456.05L435.03 454.20L436.88 456.05L435.03 457.90L436.88 459.75L435.03 461.60L433.18 459.75L431.32 461.60L429.48 459.75L431.32 457.90L429.48 456.05Z" fill="#DD8452" fill-opacity="0.85" stroke="#fff" stroke-width="0.45" stroke-opacity="0.6"/>
<path d="M476.40 439.36L478.25 441.21L480.10 439.36L481.95 441.21L480.10 443.06L481.95 444.91L480.10 446.76L478.25 444.91L476.40 446.76L474.55 444.91L476.40 443.06L474.55 441.21Z" fill="#DD8452" fill-opacity="0.85" stroke="#fff" stroke-width="0.45" stroke-opacity="0.6"/>
<path d="M521.48 418.36L523.33 420.21L525.18 418.36L527.03 420.21L525.18 422.06L527.03 423.91L525.18 425.76L523.33 423.91L521.48 425.76L519.62 423.91L521.48 422.06L519.62 420.21Z" fill="#DD8452" fill-opacity="0.85" stroke="#fff" stroke-width="0.45" stroke-opacity="0.6"/>
<path d="M566.55 386.14L568.40 387.99L570.25 386.14L572.10 387.99L570.25 389.84L572.10 391.69L570.25 393.54L568.40 391.69L566.55 393.54L564.70 391.69L566.55 389.84L564.70 387.99Z" fill="#DD8452" fill-opacity="0.85" stroke="#fff" stroke-width="0.45" stroke-opacity="0.6"/>
<rect x="385.48" y="466.14" width="5.23" height="5.23" fill="#55A868" fill-opacity="0.85" stroke="#fff" stroke-width="0.45" stroke-opacity="0.6"/>
<rect x="408.02" y="461.07" width="5.23" height="5.23" fill="#55A868" fill-opacity="0.85" stroke="#fff" stroke-width="0.45" stroke-opacity="0.6"/>
<rect x="430.56" y="455.28" width="5.23" height="5.23" fill="#55A868" fill-opacity="0.85" stroke="#fff" stroke-width="0.45" stroke-opacity="0.6"/>
<rect x="475.63" y="440.44" width="5.23" height="5.23" fill="#55A868" fill-opacity="0.85" stroke="#fff" stroke-width="0.45" stroke-opacity="0.6"/>
<rect x="520.71" y="419.44" width="5.23" height="5.23" fill="#55A868" fill-opacity="0.85" stroke="#fff" stroke-width="0.45" stroke-opacity="0.6"/>
<rect x="565.78" y="289.49" width="5.23" height="5.23" fill="#55A868" fill-opacity="0.85" stroke="#fff" stroke-width="0.45" stroke-opacity="0.6"/>
<path d="M388.10 464.70L389.10 467.40L391.80 468.40L389.10 469.40L388.10 472.10L387.10 469.40L384.40 468.40L387.10 467.40Z" fill="#937860" fill-opacity="0.85" stroke="#fff" stroke-width="0.45" stroke-opacity="0.6"/>
<path d="M410.64 459.27L411.64 461.97L414.34 462.97L411.64 463.97L410.64 466.67L409.64 463.97L406.94 462.97L409.64 461.97Z" fill="#937860" fill-opacity="0.85" stroke="#fff" stroke-width="0.45" stroke-opacity="0.6"/>
<path d="M433.18 453.47L434.17 456.17L436.88 457.17L434.17 458.17L433.18 460.87L432.18 458.17L429.48 457.17L432.18 456.17Z" fill="#937860" fill-opacity="0.85" stroke="#fff" stroke-width="0.45" stroke-opacity="0.6"/>
<path d="M478.25 433.85L479.25 436.55L481.95 437.55L479.25 438.55L478.25 441.25L477.25 438.55L474.55 437.55L477.25 436.55Z" fill="#937860" fill-opacity="0.85" stroke="#fff" stroke-width="0.45" stroke-opacity="0.6"/>
<path d="M523.33 412.28L524.32 414.98L527.03 415.98L524.32 416.98L523.33 419.68L522.33 416.98L519.62 415.98L522.33 414.98Z" fill="#937860" fill-opacity="0.85" stroke="#fff" stroke-width="0.45" stroke-opacity="0.6"/>
<path d="M568.40 362.18L569.40 364.88L572.10 365.88L569.40 366.88L568.40 369.58L567.40 366.88L564.70 365.88L567.40 364.88Z" fill="#937860" fill-opacity="0.85" stroke="#fff" stroke-width="0.45" stroke-opacity="0.6"/>
<path d="M388.10 465.06L391.80 468.76L388.10 472.46L384.40 468.76Z" fill="#8172B3" fill-opacity="0.85" stroke="#fff" stroke-width="0.45" stroke-opacity="0.6"/>
<path d="M410.64 459.63L414.34 463.33L410.64 467.03L406.94 463.33Z" fill="#8172B3" fill-opacity="0.85" stroke="#fff" stroke-width="0.45" stroke-opacity="0.6"/>
<path d="M433.18 453.84L436.88 457.54L433.18 461.24L429.48 457.54Z" fill="#8172B3" fill-opacity="0.85" stroke="#fff" stroke-width="0.45" stroke-opacity="0.6"/>
<path d="M478.25 437.91L481.95 441.61L478.25 445.31L474.55 441.61Z" fill="#8172B3" fill-opacity="0.85" stroke="#fff" stroke-width="0.45" stroke-opacity="0.6"/>
<path d="M523.33 416.19L527.03 419.89L523.33 423.59L519.62 419.89Z" fill="#8172B3" fill-opacity="0.85" stroke="#fff" stroke-width="0.45" stroke-opacity="0.6"/>
<path d="M568.40 383.61L572.10 387.31L568.40 391.01L564.70 387.31Z" fill="#8172B3" fill-opacity="0.85" stroke="#fff" stroke-width="0.45" stroke-opacity="0.6"/>
<path d="M386.87 465.06L386.87 467.52L384.40 467.52L384.40 469.99L386.87 469.99L386.87 472.46L389.33 472.46L389.33 469.99L391.80 469.99L391.80 467.52L389.33 467.52L389.33 465.06Z" fill="#C44E52" fill-opacity="0.85" stroke="#fff" stroke-width="0.45" stroke-opacity="0.6"/>
<path d="M409.40 459.63L409.40 462.09L406.94 462.09L406.94 464.56L409.40 464.56L409.40 467.03L411.87 467.03L411.87 464.56L414.34 464.56L414.34 462.09L411.87 462.09L411.87 459.63Z" fill="#C44E52" fill-opacity="0.85" stroke="#fff" stroke-width="0.45" stroke-opacity="0.6"/>
<path d="M431.94 453.84L431.94 456.30L429.48 456.30L429.48 458.77L431.94 458.77L431.94 461.24L434.41 461.24L434.41 458.77L436.88 458.77L436.88 456.30L434.41 456.30L434.41 453.84Z" fill="#C44E52" fill-opacity="0.85" stroke="#fff" stroke-width="0.45" stroke-opacity="0.6"/>
<path d="M477.02 437.33L477.02 439.80L474.55 439.80L474.55 442.26L477.02 442.26L477.02 444.73L479.48 444.73L479.48 442.26L481.95 442.26L481.95 439.80L479.48 439.80L479.48 437.33Z" fill="#C44E52" fill-opacity="0.85" stroke="#fff" stroke-width="0.45" stroke-opacity="0.6"/>
<path d="M522.09 416.19L522.09 418.65L519.62 418.65L519.62 421.12L522.09 421.12L522.09 423.59L524.56 423.59L524.56 421.12L527.03 421.12L527.03 418.65L524.56 418.65L524.56 416.19Z" fill="#C44E52" fill-opacity="0.85" stroke="#fff" stroke-width="0.45" stroke-opacity="0.6"/>
<path d="M567.17 382.09L567.17 384.55L564.70 384.55L564.70 387.02L567.17 387.02L567.17 389.49L569.63 389.49L569.63 387.02L572.10 387.02L572.10 384.55L569.63 384.55L569.63 382.09Z" fill="#C44E52" fill-opacity="0.85" stroke="#fff" stroke-width="0.45" stroke-opacity="0.6"/>
<circle cx="388.10" cy="467.82" r="3.5" fill="#806b67" fill-opacity="0.95" stroke="#604c48" stroke-width="0.9" stroke-opacity="0.8"/>
<circle cx="410.64" cy="462.89" r="3.6" fill="#7f5f69" fill-opacity="0.9"/>
<circle cx="433.18" cy="457.39" r="3.6" fill="#985a64" fill-opacity="0.85"/>
<text transform="translate(592.40,352.00) scale(0.94,1)" font-size="10">Case</text>
<circle cx="590.10" cy="361.60" r="2.30" fill="#41639e" fill-opacity="1.0" stroke="#fff" stroke-width="0" stroke-opacity="0.6"/>
<text transform="translate(604.30,364.00) scale(0.94,1)" font-size="10">2B_2</text>
<rect x="588.28" y="370.73" width="3.64" height="3.64" fill="#cf7c52" fill-opacity="1.0" stroke="#fff" stroke-width="0" stroke-opacity="0.6"/>
<text transform="translate(604.30,374.95) scale(0.94,1)" font-size="10">4C_2</text>
<rect x="588.47" y="381.87" width="3.25" height="3.25" fill="#4d9160" fill-opacity="1.0" stroke="#fff" stroke-width="0" stroke-opacity="0.6"/>
<text transform="translate(604.30,385.90) scale(0.94,1)" font-size="10">1B_</text>
<path d="M589.33 392.15L589.33 393.68L587.80 393.68L587.80 395.22L589.33 395.22L589.33 396.75L590.87 396.75L590.87 395.22L592.40 395.22L592.40 393.68L590.87 393.68L590.87 392.15Z" fill="#a8475a" fill-opacity="1.0" stroke="#fff" stroke-width="0" stroke-opacity="0.6"/>
<text transform="translate(604.30,396.85) scale(0.94,1)" font-size="10">3B_</text>
<path d="M590.10 403.10L592.40 405.40L590.10 407.70L587.80 405.40Z" fill="#6d64a0" fill-opacity="1.0" stroke="#fff" stroke-width="0" stroke-opacity="0.6"/>
<text transform="translate(604.30,407.80) scale(0.94,1)" font-size="10">4C_3</text>
<path d="M590.10 414.05L590.72 415.73L592.40 416.35L590.72 416.97L590.10 418.65L589.48 416.97L587.80 416.35L589.48 415.73Z" fill="#716456" fill-opacity="1.0" stroke="#fff" stroke-width="0" stroke-opacity="0.6"/>
<text transform="translate(604.30,418.75) scale(0.94,1)" font-size="10">2B_1</text>
</svg>
</body></html>
